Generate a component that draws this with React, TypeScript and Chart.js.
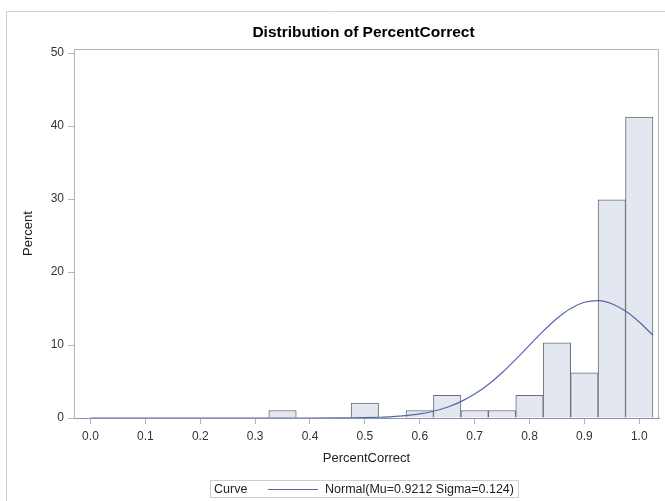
import React, { useEffect, useRef } from "react";
import { Chart, registerables } from "chart.js";

Chart.register(...registerables);

// Histogram bins (midpoints) and percent values
const BIN_MIDPOINTS = [0.0, 0.05, 0.1, 0.15, 0.2, 0.25, 0.3, 0.35, 0.4, 0.45, 0.5, 0.55, 0.6, 0.65, 0.7, 0.75, 0.8, 0.85, 0.9, 0.95, 1.0];
const BIN_PERCENTS = [0, 0, 0, 0, 0, 0, 0, 1.03, 0, 0, 2.06, 0, 1.03, 3.09, 1.03, 1.03, 3.09, 10.31, 6.19, 29.9, 41.24];

// Fitted normal curve
const CURVE_X = [0.0, 0.05, 0.1, 0.15, 0.2, 0.25, 0.3, 0.35, 0.4, 0.45, 0.475, 0.5, 0.525, 0.55, 0.575, 0.6, 0.625, 0.65, 0.675, 0.7, 0.725, 0.75, 0.775, 0.8, 0.825, 0.85, 0.875, 0.9, 0.925, 0.95, 0.975, 1.0, 1.025];
const CURVE_Y = [0, 0, 0, 0, 0, 0, 0, 0, 0, 0.01, 0.02, 0.05, 0.1, 0.18, 0.33, 0.56, 0.93, 1.47, 2.24, 3.28, 4.6, 6.2, 8.03, 9.98, 11.91, 13.64, 15.01, 15.86, 16.08, 15.66, 14.65, 13.15, 11.34];

const X_TICKS = [0.0, 0.1, 0.2, 0.3, 0.4, 0.5, 0.6, 0.7, 0.8, 0.9, 1.0];
const Y_TICKS = [0, 10, 20, 30, 40, 50];

const TITLE = "Distribution of PercentCorrect";
const X_TITLE = "PercentCorrect";
const Y_TITLE = "Percent";
const LEGEND_TITLE = "Curve";
const LEGEND_LABEL = "Normal(Mu=0.9212 Sigma=0.124)";

const FONT = '"Liberation Sans", Arial, sans-serif';

const decorations = {
  id: "decorations",
  afterDraw(chart: any) {
    const ctx = chart.ctx;
    const a = chart.chartArea;
    ctx.save();
    // outer frame (top and left visible)
    ctx.strokeStyle = "#cfcfcf";
    ctx.lineWidth = 1;
    ctx.beginPath();
    ctx.moveTo(6.5, 501);
    ctx.lineTo(6.5, 11.5);
    ctx.lineTo(665, 11.5);
    ctx.stroke();
    // plot frame top and right
    ctx.strokeStyle = "#b4b4b4";
    ctx.beginPath();
    ctx.moveTo(a.left, a.top + 0.5);
    ctx.lineTo(a.right - 0.5, a.top + 0.5);
    ctx.lineTo(a.right - 0.5, a.bottom);
    ctx.stroke();

    // title
    const cx = (a.left + a.right) / 2;
    ctx.fillStyle = "#000";
    ctx.font = "bold 15.5px " + FONT;
    ctx.textAlign = "center";
    ctx.textBaseline = "middle";
    ctx.fillText(TITLE, cx - 3, 33);

    // x title
    ctx.fillStyle = "#222";
    ctx.font = "13px " + FONT;
    ctx.fillText(X_TITLE, cx, 458);

    // y title
    ctx.save();
    ctx.translate(28, (a.top + a.bottom) / 2);
    ctx.rotate(-Math.PI / 2);
    ctx.fillText(Y_TITLE, 0, 0);
    ctx.restore();

    // legend
    ctx.font = "12.5px " + FONT;
    const labelW = ctx.measureText(LEGEND_LABEL).width;
    const boxL = 210.5;
    const boxT = 480.5;
    const lineL = 268;
    const lineR = 318;
    const textL = 325;
    const boxR = Math.round(textL + labelW + 4) + 0.5;
    ctx.strokeStyle = "#cfcfcf";
    ctx.strokeRect(boxL, boxT, boxR - boxL, 17);
    ctx.textAlign = "left";
    ctx.fillStyle = "#222";
    ctx.fillText(LEGEND_TITLE, 214, 489.5);
    ctx.fillText(LEGEND_LABEL, textL, 489.5);
    ctx.strokeStyle = "#5566a8";
    ctx.beginPath();
    ctx.moveTo(lineL, 489.5);
    ctx.lineTo(lineR, 489.5);
    ctx.stroke();
    ctx.restore();
  },
};

export default function App() {
  const ref = useRef<HTMLCanvasElement | null>(null);

  useEffect(() => {
    if (!ref.current) return;
    const chart = new Chart(ref.current, {
      type: "bar",
      data: {
        datasets: [
          {
            type: "bar",
            data: BIN_MIDPOINTS.map((x, i) => ({ x, y: BIN_PERCENTS[i] })),
            backgroundColor: "#e2e7f0",
            borderColor: "#6a6d75",
            borderWidth: 1,
            barPercentage: 1,
            categoryPercentage: 1,
            order: 2,
          } as any,
          {
            type: "line",
            data: CURVE_X.map((x, i) => ({ x, y: CURVE_Y[i] })),
            borderColor: "#5566a8",
            borderWidth: 1.2,
            pointRadius: 0,
            cubicInterpolationMode: "monotone",
            fill: false,
            order: 1,
          } as any,
        ],
      },
      options: {
        responsive: false,
        animation: false,
        devicePixelRatio: 1,
        layout: { padding: { left: 0, top: 49, right: 6, bottom: 0 } },
        plugins: {
          legend: { display: false },
          title: { display: false },
          tooltip: { enabled: false },
        },
        scales: {
          x: {
            type: "linear",
            offset: false,
            min: -0.03,
            max: 1.036,
            afterBuildTicks: (s: any) => {
              s.ticks = X_TICKS.map((v) => ({ value: v }));
            },
            afterFit: (s: any) => {
              s.height = 83;
            },
            ticks: {
              autoSkip: false,
              maxRotation: 0,
              padding: 5,
              color: "#333",
              font: { family: FONT, size: 12 },
              callback: (v: any) => Number(v).toFixed(1),
            },
            grid: {
              offset: false,
              drawOnChartArea: false,
              drawTicks: true,
              tickLength: 6,
              color: "#b4b4b4",
            },
            border: { display: true, color: "#8a93aa" },
          },
          y: {
            type: "linear",
            min: 0,
            max: 50.55,
            afterBuildTicks: (s: any) => {
              s.ticks = Y_TICKS.map((v) => ({ value: v }));
            },
            afterFit: (s: any) => {
              s.width = 74;
            },
            ticks: {
              padding: 4,
              color: "#333",
              font: { family: FONT, size: 12 },
              callback: (v: any) => String(v),
            },
            grid: {
              drawOnChartArea: false,
              drawTicks: true,
              tickLength: 6,
              color: "#b4b4b4",
            },
            border: { display: true, color: "#b4b4b4" },
          },
        },
      },
      plugins: [decorations],
    });
    return () => chart.destroy();
  }, []);

  return (
    <div style={{ position: "fixed", left: 0, top: 0, width: 665, height: 501, background: "#fff" }}>
      <canvas ref={ref} width={665} height={501} style={{ display: "block" }} />
    </div>
  );
}
